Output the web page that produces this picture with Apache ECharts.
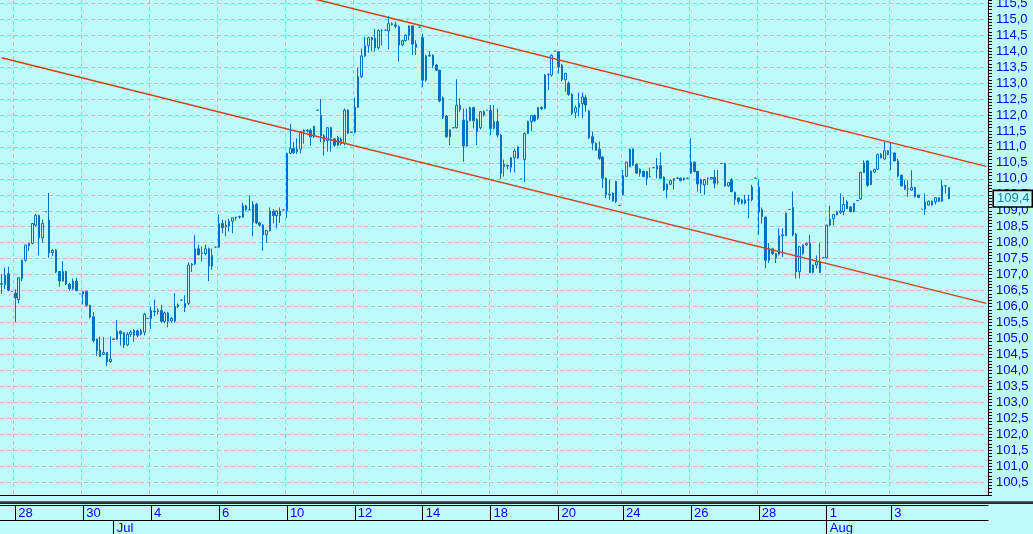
<!DOCTYPE html>
<html>
<head>
<meta charset="utf-8">
<script src="https://cdn.jsdelivr.net/npm/echarts@6/dist/echarts.min.js"></script>
<style>
html, body { margin: 0; padding: 0; background: #c0fbfb; }
#main { width: 1033px; height: 534px; }
</style>
</head>
<body>
<div id="main"></div>
<script>
// bars: [open, close, low, high]
var ohlc = [
	[106.70,106.72,106.40,107.00],[106.68,106.98,106.55,107.22],[107.03,106.52,106.48,107.25],[106.47,106.47,106.47,106.47],[106.42,106.27,105.52,106.54],
	[106.22,106.90,106.10,106.92],[106.87,107.45,106.80,107.47],[107.45,107.92,107.40,107.94],[107.90,107.98,107.74,108.00],[107.98,108.60,107.95,108.62],
	[108.55,108.85,108.50,108.90],[108.85,108.15,107.60,108.88],[108.15,108.60,108.00,108.72],[108.97,108.97,108.97,108.97],[108.70,107.68,107.53,109.56],
	[107.68,107.76,107.58,107.80],[107.77,107.08,107.05,107.80],[107.10,106.80,106.62,107.12],[106.80,107.10,106.78,107.42],[107.10,106.70,106.68,107.12],
	[106.70,106.56,106.50,106.74],[106.56,106.80,106.52,106.88],[106.80,106.50,106.48,106.90],[106.40,106.40,106.40,106.40],[106.40,106.47,106.07,106.50],
	[106.47,106.04,106.00,106.50],[106.04,105.67,105.62,106.06],[105.68,104.93,104.88,105.83],[104.98,104.62,104.46,105.00],[104.64,104.44,104.42,105.06],
	[104.50,104.56,104.48,105.04],[104.56,104.27,104.14,104.58],[104.28,104.35,104.24,105.06],[104.97,104.98,104.96,105.00],[104.98,105.23,104.96,105.58],
	[105.23,105.15,104.78,105.25],[105.18,104.80,104.70,105.20],[104.80,105.13,104.76,105.20],[105.13,105.20,105.05,105.26],[105.10,105.25,104.90,105.30],
	[105.24,105.10,105.05,105.28],[105.14,105.24,105.10,105.30],[105.20,105.76,105.10,105.80],[105.63,105.63,105.63,105.63],[105.63,105.88,105.30,106.00],
	[105.86,105.84,105.70,106.22],[105.84,105.88,105.75,105.95],[105.88,105.54,105.50,106.05],[105.54,105.80,105.48,105.84],[105.80,105.54,105.35,105.84],
	[105.55,105.63,105.50,105.68],[105.55,106.00,105.50,106.42],[106.00,106.05,105.95,106.10],[106.20,106.20,106.20,106.20],[105.97,106.10,105.83,106.35],
	[106.10,107.30,106.05,107.38],[107.30,107.33,107.08,107.36],[107.33,107.81,107.30,108.23],[107.81,107.63,107.60,107.94],[107.66,107.68,107.42,107.88],
	[107.66,107.81,107.60,107.94],[107.81,107.27,106.80,107.85],[107.27,107.60,107.15,107.82],[107.86,107.86,107.86,107.86],[107.86,108.60,107.84,108.88],
	[108.60,108.47,108.30,108.72],[108.50,108.55,108.20,108.70],[108.52,108.67,108.35,108.75],[108.67,108.78,108.30,108.80],[108.78,108.80,108.70,108.82],
	[108.80,108.82,108.75,108.85],[108.80,109.15,108.78,109.25],[109.15,109.03,109.00,109.18],[109.03,109.03,109.03,109.48],[108.64,109.20,108.20,109.30],
	[109.20,108.62,108.58,109.25],[108.62,108.55,108.50,108.66],[108.55,108.25,107.75,108.58],[108.25,108.38,108.00,108.40],[108.38,108.99,108.35,109.10],
	[108.99,108.85,108.60,109.05],[108.85,108.99,108.45,109.02],[108.99,108.85,108.62,109.10],[109.03,109.03,109.03,109.03],[109.00,110.80,108.78,110.82],
	[110.80,110.95,110.78,111.72],[110.95,110.83,110.78,111.15],[110.85,110.93,110.78,111.27],[110.93,111.48,110.80,111.50],[111.48,111.52,111.10,111.55],
	[111.52,111.50,111.45,111.56],[111.52,111.32,111.04,111.58],[111.32,111.64,111.28,111.66],[112.15,112.15,112.15,112.15],[111.98,111.35,111.15,112.50],
	[111.35,111.17,110.73,111.40],[111.20,111.60,110.85,111.62],[111.60,111.30,110.85,111.62],[111.25,111.05,111.00,111.28],[111.05,111.30,111.02,111.35],
	[111.10,111.25,111.05,111.30],[111.10,112.15,111.05,112.20],[112.15,111.43,111.40,112.18],[111.46,111.46,111.46,111.46],[111.46,112.24,111.42,112.54],
	[112.24,113.20,112.22,113.48],[113.20,113.85,113.15,114.08],[113.85,114.17,113.82,114.45],[114.17,114.42,113.95,114.45],[114.42,114.35,114.00,114.45],
	[114.40,114.10,113.98,114.70],[114.10,114.65,114.05,114.68],[114.66,114.66,114.18,114.68],[114.66,114.66,114.66,114.66],[114.63,114.86,114.06,115.10],
	[114.86,114.83,114.80,114.90],[114.82,114.78,114.72,114.92],[114.76,114.19,113.67,114.80],[114.20,114.33,114.15,114.36],[114.33,114.50,114.30,114.52],
	[114.50,114.79,114.34,114.80],[114.79,114.22,113.88,114.80],[114.22,114.12,113.88,114.34],[114.75,114.75,114.75,114.75],[114.42,113.09,112.88,114.55],
	[113.09,113.85,113.05,113.88],[113.85,113.87,113.82,114.00],[113.87,113.56,113.46,113.90],[113.56,113.40,113.38,113.60],[113.40,112.44,112.40,113.42],
	[112.54,111.92,111.88,112.58],[111.97,111.32,111.28,112.00],[111.32,111.53,111.06,111.56],[111.60,111.60,111.60,111.60],[111.60,112.30,111.58,113.12],
	[112.30,112.17,112.10,112.52],[111.84,111.03,110.54,112.20],[111.03,111.82,111.00,112.20],[111.82,112.23,111.80,112.26],[112.23,111.82,111.58,112.26],
	[111.86,111.48,111.06,111.90],[111.60,112.10,111.55,112.12],[112.10,112.00,111.96,112.14],[112.15,112.15,112.15,112.15],[112.15,111.58,111.37,112.31],
	[111.58,111.79,111.55,112.30],[111.79,111.37,111.30,112.20],[111.37,110.17,110.00,111.40],[110.38,110.45,110.07,110.60],[110.40,110.42,110.30,110.45],
	[110.36,110.66,110.20,110.68],[110.66,110.87,110.20,110.95],[110.65,111.00,110.62,111.02],[110.00,110.00,110.00,110.00],[110.60,111.42,109.90,111.45],
	[111.42,111.79,111.40,111.82],[111.79,111.98,111.50,112.00],[111.98,111.82,111.78,112.02],[111.90,112.23,111.85,112.25],[112.23,112.20,112.15,112.26],
	[112.20,113.25,112.18,113.28],[113.27,113.27,112.78,113.30],[113.25,113.87,113.20,113.90],[114.00,114.00,114.00,114.00],[113.98,113.50,113.30,114.00],
	[113.56,113.10,113.05,113.60],[113.10,113.30,112.73,113.32],[113.00,112.64,112.60,113.05],[112.64,112.05,112.00,112.68],[112.08,112.23,111.90,112.30],
	[112.23,112.36,111.95,112.70],[112.36,112.57,111.90,112.70],[112.54,112.31,112.10,112.62],[112.12,111.29,111.25,112.15],[111.32,111.12,110.90,111.48],
	[111.11,110.90,110.88,111.14],[110.93,110.64,110.60,111.17],[110.68,110.02,109.71,110.70],[110.02,109.50,109.40,110.04],[109.50,109.52,109.34,109.97],
	[109.55,109.31,109.28,109.58],[109.29,109.92,109.24,109.94],[109.17,109.17,109.17,109.17],[109.50,110.10,109.48,110.28],[110.08,110.52,110.05,110.54],
	[110.38,110.93,110.36,110.95],[110.93,110.44,110.40,110.95],[110.46,110.18,110.15,110.48],[110.18,110.30,110.07,110.33],[110.23,110.07,110.05,110.26],
	[110.23,110.02,109.81,110.25],[110.07,110.07,110.05,110.35],[110.35,110.35,110.35,110.35],[110.31,110.41,110.02,110.65],[110.41,110.02,110.00,110.83],
	[110.05,109.66,109.62,110.08],[109.66,109.83,109.40,109.85],[109.83,109.95,109.80,109.98],[109.95,110.00,109.66,110.02],[110.02,110.02,110.00,110.05],
	[110.02,109.95,109.92,110.04],[110.02,109.97,109.95,110.04],[110.02,110.02,110.02,110.02],[110.18,110.52,110.15,111.27],[110.52,110.23,110.20,110.55],
	[110.23,109.84,109.60,110.25],[109.97,109.83,109.55,110.00],[109.81,109.97,109.50,110.00],[110.02,110.02,109.81,110.04],[110.00,110.04,109.98,110.06],
	[110.04,109.86,109.70,110.28],[109.90,109.90,109.82,110.28],[110.48,110.48,110.48,110.48],[110.48,109.78,109.75,110.50],[109.78,109.88,109.75,109.90],
	[109.97,109.60,109.58,110.02],[109.58,109.36,109.19,109.60],[109.40,109.29,109.20,109.42],[109.24,109.34,109.20,109.36],[109.34,109.24,109.20,109.50],
	[109.34,109.34,108.77,109.50],[109.34,109.74,109.30,109.81],[110.02,110.02,110.02,110.02],[109.74,108.96,108.25,109.97],[109.03,108.82,108.60,109.10],
	[108.80,107.45,107.20,108.82],[107.45,107.81,107.36,107.99],[107.81,107.66,107.62,107.84],[107.52,107.66,107.36,107.68],[107.64,108.22,107.60,108.45],
	[108.22,108.25,107.55,108.45],[108.22,108.92,108.20,108.95],[109.04,109.04,109.04,109.04],[109.10,108.24,108.20,109.60],[108.26,107.09,106.88,108.30],
	[107.09,107.87,106.88,107.90],[107.66,107.93,107.62,107.95],[107.93,107.98,107.90,108.00],[107.98,107.07,107.04,108.24],[107.07,107.30,107.04,107.32],
	[107.30,107.40,107.20,107.60],[107.40,107.07,107.05,107.98],[107.53,107.53,107.53,107.53],[107.53,108.55,107.50,108.56],[108.55,108.74,108.52,109.16],
	[108.76,108.88,108.55,108.90],[108.88,108.97,108.85,109.00],[108.95,108.99,108.90,109.54],[108.97,109.20,108.86,109.44],[109.28,109.07,109.05,109.33],
	[109.12,108.97,108.95,109.15],[108.97,109.23,108.95,109.25],[109.32,109.32,109.32,109.32],[109.37,110.20,109.35,110.22],[110.20,110.50,110.18,110.58],
	[110.56,109.80,109.75,110.58],[109.82,110.24,109.80,110.26],[110.21,110.29,110.18,110.32],[110.30,110.76,110.28,110.79],[110.76,110.66,110.64,110.81],
	[110.62,110.88,110.60,111.16],[110.88,110.77,110.75,110.90],[110.81,110.81,110.27,111.13],[110.81,110.56,110.55,110.83],[110.56,110.09,110.05,110.62],
	[110.11,109.78,109.76,110.13],[109.80,109.68,109.65,109.96],[109.68,109.68,109.44,109.96],[109.65,109.73,109.64,110.27],[109.73,109.44,109.42,109.75],
	[109.49,109.42,109.40,109.51],[109.05,109.05,109.05,109.05],[109.05,109.28,108.88,109.54],[109.18,109.30,109.16,109.32],[109.18,109.30,109.16,109.32],
	[109.28,109.41,109.20,109.43],[109.41,109.30,109.28,109.43],[109.30,109.78,109.28,109.96],[109.78,109.78,109.54,109.80],[109.72,109.38,109.36,109.74]
];

var slotCount = 291;  // bar slots on the time axis, the last ones stay empty
var dayStarts = [4, 24, 44, 64, 84, 104, 124, 144, 164, 183, 203, 223, 243, 262];
var dayLabels = ['28', '30', '4', '6', '10', '12', '14', '18', '20', '24', '26', '28', '1', '3'];
var monthStarts = [33, 243];
var monthLabels = ['Jul', 'Aug'];

var priceLines = [100.5, 101, 101.5, 102, 102.5, 103, 103.5, 104, 104.5, 105, 105.5, 106, 106.5, 107, 107.5,
	108, 108.5, 109, 109.5, 110, 110.5, 111, 111.5, 112, 112.5, 113, 113.5, 114, 114.5, 115, 115.5];

// channel lines, value at first and last slot
var upperChannel = [118.07, 110.39];
var lowerChannel = [113.79, 106.10];

var blue = '#0070c0';
var textBlue = '#0000ee';
var gridColor = '#d2b8b8';
var bg = '#c0fbfb';
var fontName = 'Liberation Sans Narrow, Liberation Sans, Arial, sans-serif';

var slots = [];
for (var i = 0; i < slotCount; i++) {
	slots.push(String(i));
}

function isDay(index) {
	return dayStarts.indexOf(index) >= 0;
}
function isMonth(index) {
	return monthStarts.indexOf(index) >= 0;
}
function fmtPrice(v) {
	return v.toFixed(1).replace('.', ',');
}

var lastClose = ohlc[ohlc.length - 1][1];
var lastSlot = slotCount - 1;

var myChart = echarts.init(document.getElementById('main'));

myChart.setOption({
	animation : false,
	backgroundColor : bg,
	grid : {
		left : 0,
		right : 45,
		top : 0,
		bottom : 39,
		containLabel : false,
		outerBoundsMode : 'none'
	},
	xAxis : [ {
		type : 'category',
		data : slots,
		boundaryGap : true,
		position : 'bottom',
		axisLine : { show : true, onZero : false, lineStyle : { color : '#000', width : 1 } },
		axisTick : { show : false },
		axisLabel : { show : false },
		splitLine : {
			show : true,
			interval : function(index) { return isDay(index); },
			lineStyle : { type : [ 4, 3 ], color : gridColor, width : 1 }
		}
	}, {
		type : 'category',
		data : slots,
		boundaryGap : true,
		position : 'bottom',
		offset : 10,
		axisLine : { show : true, onZero : false, lineStyle : { color : '#000', width : 1 } },
		axisTick : {
			show : true,
			length : 15,
			alignWithLabel : true,
			interval : function(index) { return isDay(index); },
			lineStyle : { color : '#000', width : 1 }
		},
		axisLabel : {
			show : true,
			interval : function(index) { return isDay(index); },
			formatter : function(value) {
				var k = dayStarts.indexOf(parseInt(value, 10));
				return k >= 0 ? dayLabels[k] : '';
			},
			align : 'left',
			margin : 2,
			padding : [ 0, 0, 0, 3 ],
			color : textBlue,
			fontSize : 13,
			fontFamily : fontName
		},
		splitLine : { show : false }
	}, {
		type : 'category',
		data : slots,
		boundaryGap : true,
		position : 'bottom',
		offset : 25,
		axisLine : { show : true, onZero : false, lineStyle : { color : '#000', width : 1 } },
		axisTick : {
			show : true,
			length : 14,
			alignWithLabel : true,
			interval : function(index) { return isMonth(index); },
			lineStyle : { color : '#000', width : 1 }
		},
		axisLabel : {
			show : true,
			interval : function(index) { return isMonth(index); },
			formatter : function(value) {
				var k = monthStarts.indexOf(parseInt(value, 10));
				return k >= 0 ? monthLabels[k] : '';
			},
			align : 'left',
			margin : 2,
			padding : [ 0, 0, 0, 3 ],
			color : textBlue,
			fontSize : 13,
			fontFamily : fontName
		},
		splitLine : { show : false }
	} ],
	yAxis : {
		type : 'value',
		position : 'right',
		min : 100.1,
		max : 115.6,
		interval : 0.1,
		axisLine : { show : true, lineStyle : { color : '#000', width : 1 } },
		axisTick : { show : true, length : 4, lineStyle : { color : '#000' } },
		splitLine : { show : false },
		axisLabel : {
			margin : 8,
			color : textBlue,
			fontSize : 13,
			fontFamily : fontName,
			formatter : function(v) {
				if (Math.abs(v * 2 - Math.round(v * 2)) > 1e-6) {
					return '';
				}
				return fmtPrice(v);
			}
		}
	},
	graphic : [ {
		type : 'rect',
		left : 0,
		top : 501,
		silent : true,
		shape : { width : 1033, height : 3 },
		style : {
			fill : new echarts.graphic.LinearGradient(0, 0, 0, 1, [
				{ offset : 0, color : '#6a6a6a' },
				{ offset : 1, color : '#151515' } ])
		}
	} ],
	series : [ {
		name : 'price',
		type : 'candlestick',
		xAxisIndex : 0,
		data : ohlc,
		barWidth : 2,
		z : 2,
		itemStyle : {
			color : 'transparent',
			color0 : blue,
			borderColor : blue,
			borderColor0 : blue,
			borderWidth : 1
		},
		markLine : {
			silent : true,
			symbol : 'none',
			animation : false,
			lineStyle : { color : 'rgba(0,0,0,0)', width : 1, type : 'solid' },
			label : {
				show : true,
				position : 'end',
				distance : 6,
				formatter : function() { return fmtPrice(lastClose); },
				color : '#1580b0',
				fontSize : 13,
				fontFamily : fontName,
				backgroundColor : bg,
				borderColor : '#000',
				borderWidth : 1.6,
				padding : [ 2, 2, 0, 3 ],
				opacity : 1
			},
			emphasis : { disabled : true },
			data : [ { yAxis : lastClose } ]
		}
	}, {
		name : 'upper',
		type : 'line',
		xAxisIndex : 0,
		data : [ [ 0, upperChannel[0] ], [ lastSlot, upperChannel[1] ] ],
		symbol : 'none',
		clip : true,
		z : 3,
		lineStyle : { color : '#d2401a', width : 1.5 },
		markLine : {
			silent : true,
			symbol : 'none',
			animation : false,
			z : 1,
			label : { show : false },
			lineStyle : { type : [ 4, 3 ], color : gridColor, width : 1 },
			data : priceLines.map(function(v) { return { yAxis : v }; })
		}
	}, {
		name : 'lower',
		type : 'line',
		xAxisIndex : 0,
		data : [ [ 0, lowerChannel[0] ], [ lastSlot, lowerChannel[1] ] ],
		symbol : 'none',
		clip : true,
		z : 3,
		lineStyle : { color : '#d2401a', width : 1.5 }
	} ]
});
</script>
</body>
</html>
